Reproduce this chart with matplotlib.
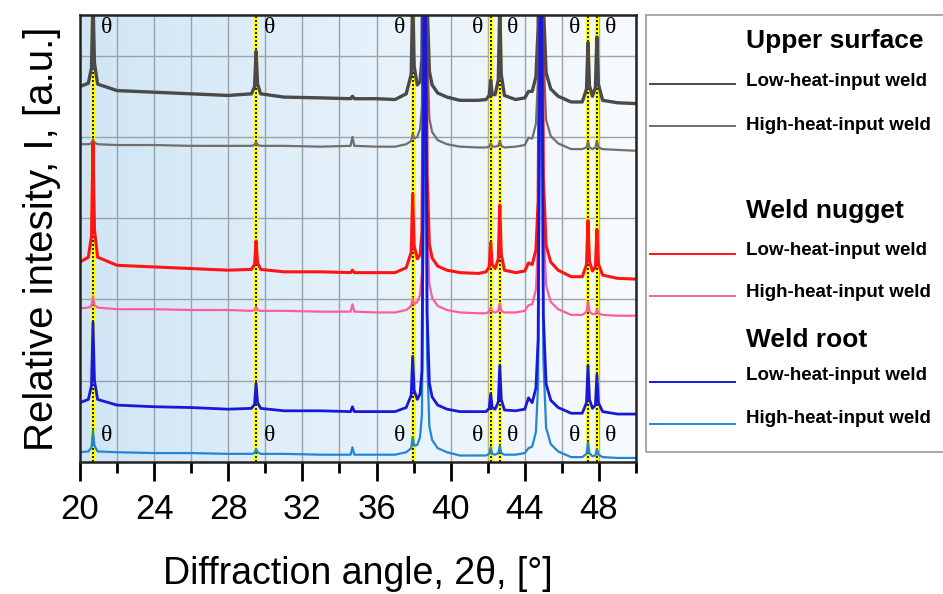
import matplotlib
matplotlib.use('Agg')
import matplotlib.pyplot as plt
import numpy as np
from matplotlib.colors import LinearSegmentedColormap
from matplotlib.patches import Rectangle

plt.rcParams['font.family'] = ['Liberation Sans', 'DejaVu Sans']

# 衍射角 2θ (°)
angle = [
    20.0, 20.45, 20.62, 20.7, 20.78, 20.95,
    22.0, 24.0, 26.0, 28.0,
    29.25, 29.42, 29.5, 29.58, 29.75,
    31.0, 33.0, 34.6, 34.7, 34.8, 36.0, 37.0,
    37.6, 37.87, 37.95, 38.03, 38.2, 38.35, 38.45, 38.53, 38.59, 38.65, 38.73, 38.85, 39.0, 39.3, 39.8,
    40.5, 41.5,
    41.91, 42.08, 42.16, 42.24, 42.4, 42.57, 42.65, 42.73, 42.9,
    43.5, 44.0, 44.2, 44.4, 44.6, 44.72, 44.8, 44.86, 44.92, 45.0, 45.15, 45.4, 45.8,
    46.5, 47.1, 47.33, 47.41, 47.49, 47.65, 47.81, 47.89, 47.97, 48.2, 49.0, 50.0]

# 相对强度（已叠放）
upper_low = [
    4.62, 4.66, 4.85, 5.71, 4.91, 4.65,
    4.57, 4.55, 4.53, 4.51,
    4.53, 4.62, 5.05, 4.65, 4.53,
    4.49, 4.48, 4.47, 4.50, 4.47, 4.47, 4.46,
    4.53, 4.77, 5.72, 4.87, 4.64, 4.68, 4.96, 7.46, 16.46, 9.46, 5.66, 4.81, 4.64, 4.54, 4.49,
    4.45, 4.45,
    4.46, 4.51, 4.70, 4.52, 4.52, 4.70, 5.60, 4.77, 4.51,
    4.46, 4.48, 4.56, 4.56, 4.74, 5.34, 8.44, 16.44, 9.44, 5.64, 4.79, 4.59, 4.50,
    4.43, 4.43, 4.59, 5.16, 4.63, 4.50, 4.61, 5.23, 4.65, 4.45, 4.42, 4.41]

upper_high = [
    3.91, 3.91, 3.92, 3.97, 3.93, 3.91,
    3.90, 3.90, 3.89, 3.89,
    3.89, 3.90, 3.94, 3.90, 3.89,
    3.89, 3.88, 3.89, 4.00, 3.89, 3.88, 3.88,
    3.91, 3.95, 4.04, 3.98, 4.00, 4.10, 4.38, 6.88, 15.88, 8.88, 5.08, 4.23, 4.06, 3.96, 3.91,
    3.88, 3.87,
    3.87, 3.88, 3.92, 3.88, 3.88, 3.89, 3.95, 3.89, 3.87,
    3.88, 3.90, 3.99, 3.98, 4.16, 4.76, 7.86, 15.86, 8.86, 5.06, 4.21, 4.01, 3.92,
    3.85, 3.85, 3.87, 3.94, 3.87, 3.85, 3.87, 3.95, 3.87, 3.85, 3.84, 3.83]

nugget_low = [
    2.46, 2.52, 2.78, 3.93, 2.86, 2.52,
    2.42, 2.40, 2.38, 2.36,
    2.37, 2.43, 2.72, 2.45, 2.37,
    2.34, 2.34, 2.33, 2.36, 2.33, 2.33, 2.33,
    2.39, 2.58, 3.30, 2.66, 2.50, 2.55, 2.83, 5.33, 14.33, 7.33, 3.53, 2.68, 2.51, 2.41, 2.36,
    2.33, 2.32,
    2.34, 2.40, 2.70, 2.43, 2.38, 2.50, 3.16, 2.56, 2.36,
    2.33, 2.35, 2.45, 2.43, 2.61, 3.21, 6.31, 14.31, 7.31, 3.51, 2.66, 2.46, 2.36,
    2.28, 2.28, 2.43, 2.97, 2.47, 2.35, 2.40, 2.86, 2.44, 2.30, 2.26, 2.25]

nugget_high = [
    1.89, 1.90, 1.92, 2.04, 1.93, 1.90,
    1.88, 1.88, 1.87, 1.87,
    1.86, 1.87, 1.91, 1.87, 1.86,
    1.86, 1.85, 1.85, 1.94, 1.85, 1.84, 1.84,
    1.87, 1.92, 2.02, 1.94, 1.97, 2.06, 2.34, 4.84, 13.84, 6.84, 3.04, 2.19, 2.02, 1.92, 1.87,
    1.84, 1.83,
    1.83, 1.85, 1.90, 1.85, 1.84, 1.86, 1.95, 1.86, 1.84,
    1.84, 1.86, 1.93, 1.94, 2.12, 2.72, 5.82, 13.82, 6.82, 3.02, 2.17, 1.97, 1.88,
    1.81, 1.81, 1.85, 1.97, 1.85, 1.82, 1.82, 1.88, 1.83, 1.81, 1.80, 1.80]

root_low = [
    0.73, 0.77, 0.94, 1.72, 1.00, 0.77,
    0.70, 0.68, 0.67, 0.65,
    0.66, 0.71, 0.97, 0.73, 0.66,
    0.63, 0.63, 0.62, 0.68, 0.62, 0.62, 0.62,
    0.67, 0.82, 1.30, 0.88, 0.77, 0.84, 1.12, 3.62, 12.62, 5.62, 1.82, 0.97, 0.80, 0.70, 0.65,
    0.62, 0.62,
    0.62, 0.66, 0.84, 0.67, 0.65, 0.74, 1.19, 0.77, 0.64,
    0.63, 0.65, 0.79, 0.73, 0.91, 1.51, 4.61, 12.61, 5.61, 1.81, 0.96, 0.76, 0.67,
    0.60, 0.60, 0.73, 1.19, 0.77, 0.66, 0.70, 1.07, 0.73, 0.62, 0.59, 0.59]

root_high = [
    0.12, 0.13, 0.18, 0.39, 0.20, 0.13,
    0.12, 0.11, 0.11, 0.10,
    0.10, 0.11, 0.16, 0.12, 0.10,
    0.10, 0.09, 0.09, 0.18, 0.09, 0.09, 0.09,
    0.12, 0.17, 0.31, 0.20, 0.21, 0.31, 0.59, 3.09, 12.09, 5.09, 1.29, 0.44, 0.27, 0.17, 0.12,
    0.08, 0.08,
    0.08, 0.10, 0.18, 0.10, 0.09, 0.11, 0.20, 0.11, 0.09,
    0.09, 0.11, 0.17, 0.19, 0.37, 0.97, 4.07, 12.07, 5.07, 1.27, 0.42, 0.22, 0.13,
    0.06, 0.06, 0.10, 0.24, 0.11, 0.07, 0.08, 0.16, 0.09, 0.06, 0.05, 0.05]

# θ 相峰位置
theta_angle = [20.70, 29.51, 37.95, 42.16, 42.65, 47.41, 47.89]
theta_side = [1, 1, -1, -1, 1, -1, 1]

fig = plt.figure(figsize=(9.43, 5.94), dpi=100)
ax = fig.add_axes([80 / 943, 1 - 462 / 594, 556 / 943, 447 / 594])

# 背景渐变
cmap = LinearSegmentedColormap.from_list('bg', ['#d0e5f5', '#e5f1fa', '#f8fbfe'])
ax.imshow(np.linspace(0, 1, 256).reshape(1, -1), cmap=cmap, aspect='auto',
          extent=[0, 1, 0, 1], transform=ax.transAxes, zorder=0)

# θ 峰参考线
for xa in theta_angle:
    ax.axvline(xa, color='#ffff00', lw=3.2, zorder=1.5)
    ax.axvline(xa, color='black', lw=1.2, ls=(0, (1.2, 1.2)), zorder=1.6)

curves = [
    (upper_high, '#6f6f6f', 1.6),
    (upper_low, '#4a4a4a', 2.4),
    (nugget_high, '#ff5c9d', 1.6),
    (nugget_low, '#ff1414', 2.2),
    (root_high, '#2485d4', 1.6),
    (root_low, '#1818d8', 2.0),
]
for ys, c, lw in curves:
    ax.plot(angle, ys, color=c, lw=lw, zorder=3)

ax.set_xlim(20, 50)
ax.set_ylim(0, 5.5)
ax.set_xticks(np.arange(20, 49, 4))
ax.set_xticks(np.arange(22, 51, 4), minor=True)
ax.set_yticks([1, 2, 3, 4, 5])
ax.set_yticklabels([])
ax.tick_params(axis='y', length=0)
ax.tick_params(axis='x', which='major', length=14, width=2, labelsize=25, pad=8, direction='out')
ax.tick_params(axis='x', which='minor', length=8, width=2, direction='out')
ax.grid(True, which='both', color='#9aa3aa', lw=1.0, zorder=1)
ax.set_axisbelow(True)
for s in ax.spines.values():
    s.set_linewidth(1.8)
    s.set_color('#222222')
    s.set_zorder(5)

ax.set_xlabel('Diffraction angle, 2θ, [°]', fontsize=27, labelpad=22)
ax.set_ylabel('Relative intesity, I, [a.u.]', fontsize=29, labelpad=10)

# θ 标注
for xa, sd in zip(theta_angle, theta_side):
    for yy in (0.972, 0.06):
        ax.annotate('θ', xy=(xa, yy), xycoords=('data', 'axes fraction'),
                    xytext=(9.5 * sd, 0), textcoords='offset points',
                    ha='center', va='center', fontsize=17,
                    family=['Liberation Serif', 'DejaVu Serif'], zorder=6)

# 图例框
fig.patches.append(Rectangle((646 / 943, 1 - 452 / 594), 0.32, 437 / 594,
                             transform=fig.transFigure, fill=False,
                             edgecolor='#9a9a9a', lw=1.2))
groups = [
    ('Upper surface', 48, [('#4a4a4a', 86, 84), ('#6f6f6f', 130, 126)]),
    ('Weld nugget', 218, [('#ff1414', 255, 254), ('#ff5c9d', 297, 296)]),
    ('Weld root', 347, [('#1818d8', 380, 382), ('#2485d4', 423, 424)]),
]
item_labels = ['Low-heat-input weld', 'High-heat-input weld']
for title, ty, items in groups:
    fig.text(746 / 943, 1 - ty / 594, title, fontsize=19, fontweight='bold',
             va='baseline', ha='left')
    for (c, by, ly), lab in zip(items, item_labels):
        fig.add_artist(plt.Line2D([650 / 943, 735 / 943], [1 - ly / 594] * 2,
                                  transform=fig.transFigure, color=c, lw=1.4))
        fig.text(746 / 943, 1 - by / 594, lab, fontsize=13.5, fontweight='bold',
                 va='baseline', ha='left')

fig.savefig('out.png', dpi=100)
